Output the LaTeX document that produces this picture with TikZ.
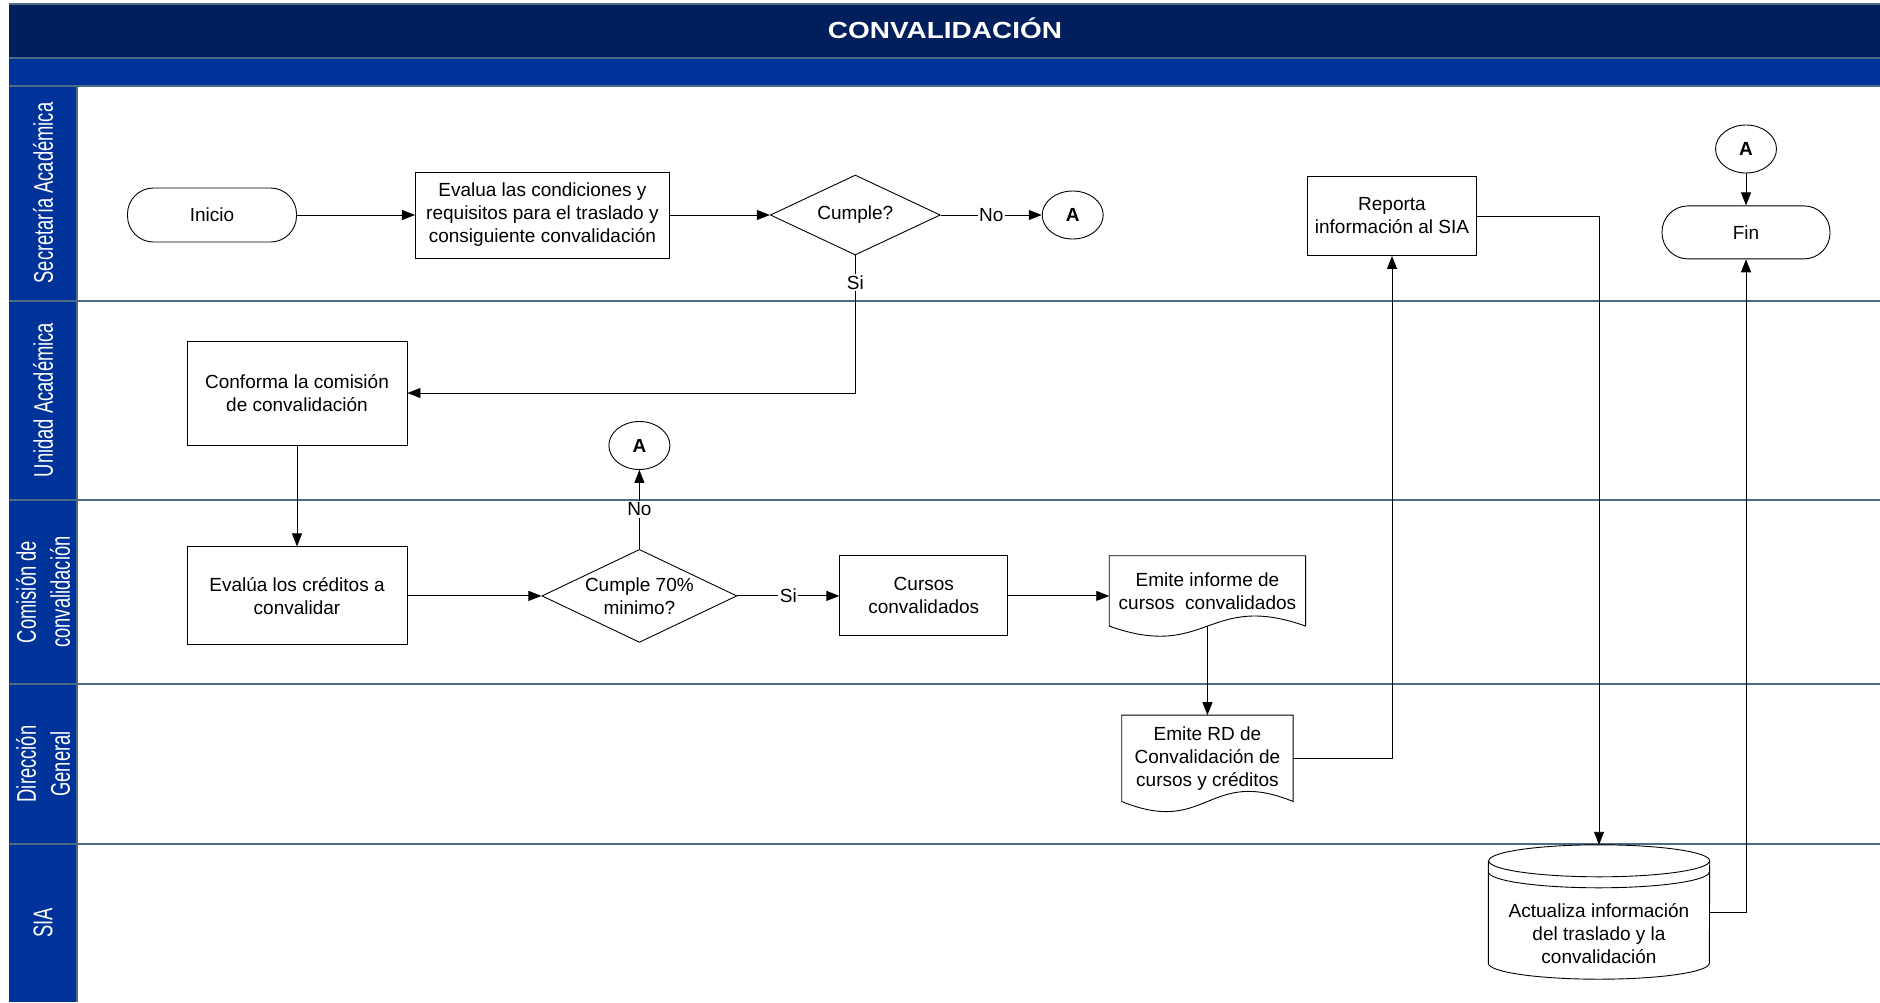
\documentclass[tikz,border=0pt]{standalone}
\usepackage{fontspec}
\setmainfont{Liberation Sans}
\newfontfamily\lanefont[FakeStretch=0.68]{Liberation Sans}
\newfontfamily\titlefont[FakeStretch=1.2]{Liberation Sans}
\usetikzlibrary{shapes.geometric, arrows.meta, positioning}

\definecolor{titlenavy}{RGB}{0,31,92}
\definecolor{laneblue}{RGB}{0,51,153}
\definecolor{laneline}{RGB}{74,108,132}

\newcommand{\boxfont}{\fontsize{19}{23}\selectfont}

\tikzstyle{startstop} = [rectangle, rounded corners=26pt, minimum width=169pt, minimum height=54pt, text centered, draw=black, line width=0.9pt, font=\boxfont]
\tikzstyle{process} = [rectangle, text centered, align=center, draw=black, line width=0.9pt, font=\boxfont]
\tikzstyle{decision} = [diamond, aspect=2.1, inner sep=0pt, minimum width=170pt, minimum height=80pt, align=center, draw=black, line width=0.9pt, font=\boxfont]
\tikzstyle{connector} = [ellipse, inner sep=0pt, minimum width=61pt, minimum height=48pt, draw=black, line width=0.9pt, font=\boxfont\bfseries]
\tikzstyle{docbox} = [rectangle, text centered, align=center, font=\boxfont]
\tikzstyle{dbbox} = [rectangle, text centered, align=center, font=\boxfont]
\tikzstyle{lanelabel} = [rotate=90, align=center, text=white, font=\fontsize{27}{34}\lanefont]
\tikzstyle{answer} = [fill=white, inner sep=1.5pt, font=\boxfont]
\tikzstyle{arrow} = [line width=0.9pt, -{Triangle[length=13pt,width=10pt]}]

% wavy bottom of a document node
\newcommand{\docoutline}[1]{%
  \draw[line width=0.9pt] (#1.south west) -- (#1.north west) -- (#1.north east) -- (#1.south east)
    .. controls ([yshift=35pt]#1.south) and ([yshift=-35pt]#1.south) .. (#1.south west);}
% stored data (cylinder with double top)
\newcommand{\dboutline}[1]{%
  \draw[line width=0.9pt] ([yshift=28pt]#1.north west) -- ([yshift=16pt]#1.south west)
    arc[start angle=180, end angle=360, x radius=110.5pt, y radius=16pt]
    -- ([yshift=28pt]#1.north east)
    arc[start angle=0, end angle=360, x radius=110.5pt, y radius=16pt];
  \draw[line width=0.9pt] ([yshift=17pt]#1.north west)
    arc[start angle=180, end angle=360, x radius=110.5pt, y radius=16pt];}

\begin{document}
\begin{tikzpicture}[x=1pt, y=-1pt]

	\useasboundingbox (0,0) rectangle (1880,1002);

	% Pool - - - - - - - - - - - - - - - - - - - - - - - - - - - - - - - - - - -
	\fill[titlenavy] (9,4) rectangle (1880,58);
	\fill[laneblue] (9,58) rectangle (1880,86);
	\fill[laneblue] (9,86) rectangle (77,1002);
	\draw[laneline, line width=1.5pt] (9,4) -- (1880,4);
	\draw[laneline, line width=1.5pt] (9,58) -- (1880,58);
	\draw[laneline, line width=1.5pt] (9,86) -- (1880,86);
	\draw[laneline, line width=1.5pt] (77,86) -- (77,1002);
	\foreach \y in {301,500,684,844}
		\draw[laneline, line width=1.8pt] (9,\y) -- (1880,\y);

	\node(title)[anchor=base, text=white, font=\fontsize{23.3}{28}\titlefont\bfseries] at (945,38) {CONVALIDACIÓN};

	% Lanes
	\node(lsec)[lanelabel] at (43,193) {Secretaría Académica};
	\node(luni)[lanelabel] at (43,400) {Unidad Académica};
	\node(lcom)[lanelabel] at (43,592) {Comisión de\\convalidación};
	\node(ldir)[lanelabel] at (43,764) {Dirección\\General};
	\node(lsia)[lanelabel] at (43,923) {SIA};

	% Secretaria Academica - - - - - - - - - - - - - - - - - - - - - - - - - - -
	\node(inicio)[startstop] at (212,215) {Inicio};
	\node(evalua)[process, minimum width=254pt, minimum height=86pt, right=118pt of inicio]
		{Evalua las condiciones y\\requisitos para el traslado y\\consiguiente convalidación};
	\node(cumple)[decision, right=100pt of evalua] {Cumple?};
	\node(conA1)[connector, right=101pt of cumple] {A};
	\node(reporta)[process, minimum width=169pt, minimum height=79pt] at (1392,216)
		{Reporta\\información al SIA};
	\node(conA3)[connector] at (1746,149) {A};
	\node(fin)[startstop, minimum width=168pt, minimum height=53pt, below=32pt of conA3] {Fin};

	% Unidad Academica
	\node(conforma)[process, minimum width=220pt, minimum height=104pt] at (297,393)
		{Conforma la comisión\\de convalidación};

	% Comision de convalidacion
	\node(evalcred)[process, minimum width=220pt, minimum height=98pt, below=101pt of conforma]
		{Evalúa los créditos a\\convalidar};
	\node(cumple70)[decision, minimum width=195pt, minimum height=93pt, right=134pt of evalcred]
		{Cumple 70\%\\minimo?};
	\node(conA2)[connector, above=79pt of cumple70] {A};
	\node(cursos)[process, minimum width=168pt, minimum height=80pt, right=102pt of cumple70]
		{Cursos\\convalidados};
	\node(informe)[docbox, minimum width=196pt, minimum height=70pt, right=101pt of cursos, yshift=5pt]
		{Emite informe de\\cursos\ \ convalidados};

	% Direccion General
	\node(rd)[docbox, minimum width=171pt, minimum height=86pt, below=89pt of informe]
		{Emite RD de\\Convalidación de\\cursos y créditos};

	% SIA
	\node(actualiza)[dbbox, minimum width=221pt, minimum height=90pt] at (1599,934)
		{Actualiza información\\del traslado y la\\convalidación};
	\coordinate(dbtop) at ([yshift=44pt]actualiza.north);

	\docoutline{informe}
	\docoutline{rd}
	\dboutline{actualiza}

	% Arrows - - - - - - - - - - - - - - - - - - - - - - - - - - - - - - - - - -
	\draw[arrow](inicio)--(evalua);
	\draw[arrow](evalua)--(cumple);
	\draw[arrow](cumple)--node[answer]{No}(conA1);
	\draw[arrow](cumple.south)|-node[answer, pos=0.1]{Si}(conforma.east);
	\draw[arrow](conforma)--(evalcred);
	\draw[arrow](evalcred)--(cumple70);
	\draw[arrow](cumple70)--node[answer]{No}(conA2);
	\draw[arrow](cumple70)--node[answer]{Si}(cursos);
	\draw[arrow](cursos.east)--(cursos.east -| informe.west);
	\draw[arrow](informe)--(rd);
	\draw[arrow](rd.east)-|(reporta.south);
	\draw[arrow](reporta.east)-|(dbtop);
	\draw[arrow]([yshift=22pt]actualiza.east)-|(fin.south);
	\draw[arrow](conA3)--(fin);

\end{tikzpicture}
\end{document}
